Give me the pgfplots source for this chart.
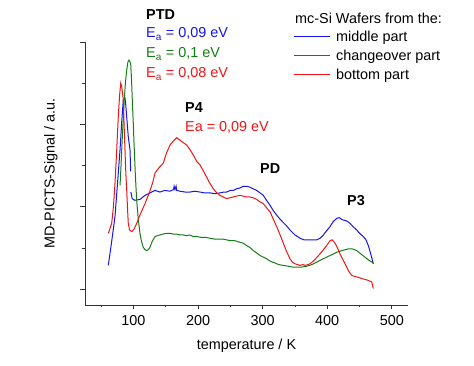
\documentclass[border=0pt]{standalone}
\usepackage{fontspec}
\setmainfont{Liberation Sans}
\usepackage{pgfplots}
\pgfplotsset{compat=1.18}
\definecolor{cblue}{RGB}{20,20,240}
\definecolor{cgreen}{RGB}{20,125,20}
\definecolor{cred}{RGB}{240,20,20}
\pgfplotsset{
  legend image code/.code={\draw[#1] (0pt,1pt) -- (36pt,1pt); \path (40pt,0pt);},
}
\begin{document}
\begin{tikzpicture}
\fontsize{14.4}{17}\selectfont
\useasboundingbox (-85pt,-61pt) rectangle (389pt,305pt);
\begin{axis}[
  at={(0pt,0pt)}, anchor=south west,
  scale only axis, width=323pt, height=263pt,
  xmin=25, xmax=525, ymin=-0.19, ymax=3,
  axis x line*=bottom, axis y line*=left,
  axis line style={line width=0.8pt, -, black!80},
  tick align=outside,
  xtick={100,200,300,400,500},
  minor xtick={50,150,250,350,450},
  ytick={0,1,2,3}, minor ytick={0.5,1.5,2.5},
  yticklabels={},
  major tick length=4.5pt, minor tick length=2.5pt,
  every tick/.style={black!80, line width=0.8pt},
  /pgf/number format/assume math mode=true,
  ticklabel style={font=\fontsize{14.4}{17}\selectfont},
  xticklabel style={yshift=-1pt},
  xlabel={temperature / K},
  ylabel={MD-PICTS-Signal / a.u.},
  label style={font=\fontsize{14.4}{17}\selectfont},
  xlabel style={yshift=-4pt},
  ylabel style={yshift=8pt},
  unbounded coords=jump,
  legend style={draw=none, fill=none, at={(208pt,276pt)}, anchor=north west,
    inner sep=0pt, row sep=2.5pt,
    font=\fontsize{14.4}{17}\selectfont},
  legend cell align=left,
]
\addplot[cblue, line width=1pt] coordinates {
(61,0.29)(64,0.45)(68,0.68)(71.4,0.88)(75,1.25)(79.2,1.69)(82,2.05)(84.3,2.30)(86.9,2.32)(88,2.25)(89.6,2.09)(92,1.85)(94.7,1.69)(95.7,1.43)
(95.8,nan)
(96,1.18)(98,1.10)(102,1.08)(110,1.09)(117.9,1.14)(125.6,1.17)(133.4,1.20)(141,1.18)(148.8,1.20)(156.6,1.19)(162,1.21)(163,1.25)(164.3,1.21)(166,1.25)(167,1.20)(172,1.19)(180,1.18)(187.5,1.18)(195,1.19)(203,1.18)(210,1.17)(218.5,1.17)(226,1.16)(234,1.17)(240,1.18)(244.3,1.18)(250,1.20)(254.6,1.20)(260,1.22)(265,1.23)(270,1.25)(275.3,1.25)(280,1.24)(285,1.22)(290.7,1.20)(296,1.17)(301,1.14)(306,1.08)(311.4,1.02)(316,0.96)(321.7,0.90)(327,0.85)(332,0.81)(337,0.77)(342.3,0.72)(350,0.66)(357.8,0.62)(364,0.60)(370,0.60)(377,0.60)(383.7,0.60)(389,0.62)(394,0.66)(399,0.71)(404.3,0.76)(409,0.82)(414.6,0.86)(418.7,0.87)(422,0.85)(425,0.84)(430,0.83)(435.2,0.80)(440,0.76)(445.6,0.72)(450,0.68)(455.9,0.64)(460,0.60)(463.6,0.53)(467,0.44)(471.3,0.31)
};
\addlegendentry{middle part}
\addplot[cgreen, line width=1pt] coordinates {
(79.2,1.26)(80.5,1.45)(81.8,1.69)(83.8,2.0)(85.8,2.30)(87.5,2.50)(89.6,2.66)(91.5,2.76)(93.1,2.78)(95.7,2.74)(97,2.55)(98.2,2.30)(99.8,2.0)(101.3,1.69)(103,1.38)(105,1.08)(107.5,0.85)(110.1,0.68)(112.5,0.58)(115.2,0.51)(118,0.48)(120.5,0.47)(123,0.48)(125.6,0.51)(129,0.58)(133.4,0.64)(137,0.65)(141,0.66)(146,0.67)(151,0.68)(156.6,0.68)(162,0.67)(167,0.67)(172,0.66)(177,0.66)(182,0.65)(187,0.66)(192.6,0.64)(198,0.64)(205,0.63)(212,0.63)(218.5,0.62)(225,0.61)(232,0.61)(238,0.61)(244.3,0.60)(250,0.59)(257,0.59)(265,0.57)(270,0.56)(275.3,0.53)(280,0.51)(285.6,0.47)(291,0.44)(296,0.41)(301,0.39)(306.3,0.37)(312,0.34)(319,0.32)(325,0.30)(332,0.29)(340,0.28)(346,0.27)(352.7,0.27)(360,0.27)(368,0.28)(376,0.30)(383.7,0.33)(391,0.36)(399,0.39)(407,0.42)(414.6,0.45)(423,0.47)(432.6,0.49)(439,0.49)(445.6,0.47)(452,0.43)(458.4,0.39)(465,0.35)(471.3,0.32)
};
\addlegendentry{changeover part}
\addplot[cred, line width=1pt] coordinates {
(61.1,0.68)(63,0.72)(66.3,0.80)(69,1.0)(71.4,1.28)(74.1,1.69)(76.5,2.09)(78.5,2.35)(80.3,2.50)(82,2.45)(84.3,2.30)(85.5,2.0)(86.9,1.69)(88,1.45)(89.6,1.20)(91,0.95)(92,0.80)(94,0.72)(97.3,0.70)(101,0.73)(105,0.80)(110,0.90)(117.9,1.04)(125,1.18)(130,1.30)(133.4,1.41)(140,1.48)(146.2,1.53)(151,1.65)(156.6,1.75)(162,1.80)(166.9,1.84)(170,1.82)(172.1,1.81)(177,1.78)(182.4,1.75)(187,1.70)(192.7,1.63)(198,1.55)(203,1.51)(208,1.44)(213.4,1.36)(218,1.29)(223.6,1.22)(229,1.17)(234,1.14)(239,1.12)(244.3,1.10)(249,1.11)(254.6,1.12)(259,1.13)(264.9,1.14)(270,1.13)(275.3,1.12)(280,1.12)(285.6,1.11)(291,1.09)(296,1.06)(301,1.04)(306,0.99)(311.4,0.94)(316,0.86)(321.7,0.76)(327,0.66)(332,0.56)(337,0.46)(342.3,0.37)(346,0.33)(350,0.31)(354,0.30)(357.8,0.29)(362,0.30)(366,0.29)(370,0.30)(373.3,0.31)(378,0.34)(383,0.38)(388.8,0.43)(394,0.48)(399,0.53)(404.3,0.59)(408,0.60)(412,0.56)(416,0.50)(419.7,0.43)(425,0.35)(430,0.27)(434,0.21)(437.8,0.17)(441,0.16)(445.6,0.15)(450,0.14)(454,0.13)(458.4,0.12)(463,0.11)(468.8,0.09)(471.3,0.01)
};
\addlegendentry{bottom part}
\end{axis}
\begin{scope}[every node/.style={anchor=west, inner sep=0pt, font=\fontsize{14.4}{17}\selectfont}]
\node at (61pt,290pt) {\bfseries PTD};
\node[text=cblue] at (61pt,271pt) {E\textsubscript{a} = 0,09 eV};
\node[text=cgreen] at (61pt,251pt) {E\textsubscript{a} = 0,1 eV};
\node[text=cred] at (61pt,231pt) {E\textsubscript{a} = 0,08 eV};
\node at (100pt,197pt) {\bfseries P4};
\node[text=cred] at (100pt,178pt) {Ea = 0,09 eV};
\node at (175pt,136pt) {\bfseries PD};
\node at (262pt,104pt) {\bfseries P3};
\node at (210pt,287pt) {mc-Si Wafers from the:};
\end{scope}
\end{tikzpicture}
\end{document}
